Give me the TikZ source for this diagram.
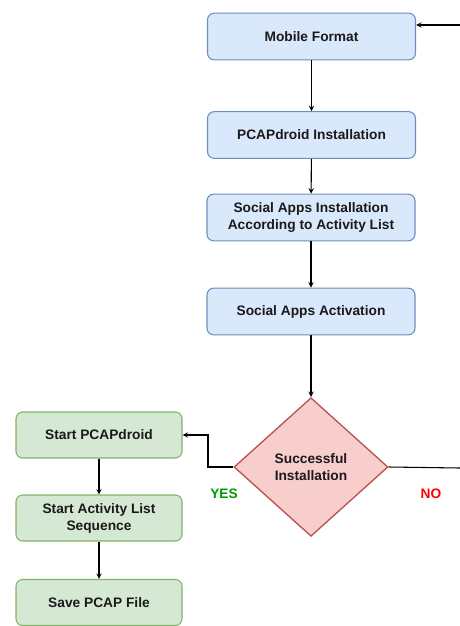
\documentclass[tikz,border=0pt]{standalone}
\usepackage{fontspec}
\setmainfont{Liberation Sans}
\usetikzlibrary{shapes.geometric}
\definecolor{blueFill}{HTML}{DAE8FC}
\definecolor{blueLine}{HTML}{6C8EBF}
\definecolor{greenFill}{HTML}{D5E8D4}
\definecolor{greenLine}{HTML}{82B366}
\definecolor{redFill}{HTML}{F8CECC}
\definecolor{redLine}{HTML}{B85450}
\definecolor{yesGreen}{HTML}{009900}
\definecolor{noRed}{HTML}{FF0000}
\definecolor{textDark}{HTML}{1A1A1A}
\begin{document}
\begin{tikzpicture}[
    x=0.75pt, y=-0.75pt,
    mybox/.style={rectangle, rounded corners=5pt, line width=0.8pt, align=center, inner sep=0pt,
        text=textDark, font=\fontsize{10.3}{12.75}\selectfont\bfseries},
    myblue/.style={mybox, draw=blueLine, fill=blueFill, minimum width=156pt, minimum height=35pt},
    mygreen/.style={mybox, draw=greenLine, fill=greenFill, minimum width=124.5pt, minimum height=34.5pt},
    mydecision/.style={diamond, draw=redLine, fill=redFill, line width=1pt, align=center, inner sep=0pt,
        text=textDark, minimum width=115.5pt, minimum height=104pt,
        font=\fontsize{10.3}{12.75}\selectfont\bfseries},
    myarrow/.style={->, >=stealth, line width=0.8pt},
    mylabel/.style={font=\fontsize{10.3}{12.75}\selectfont\bfseries}
]
    \useasboundingbox (0, 0) rectangle (460, 626);

    % Main column
    \node[myblue] (format) at (311.5, 36.5) {Mobile Format};
    \node[myblue] (pcapinst) at (311.5, 135) {PCAPdroid Installation};
    \node[myblue] (appsinst) at (311, 217.5) {Social Apps Installation\\According to Activity List};
    \node[myblue] (appsact) at (311, 311.5) {Social Apps Activation};

    % Decision
    \node[mydecision] (check) at (311, 467) {Successful\\Installation};

    % Capture column
    \node[mygreen] (startpcap) at (99, 435) {Start PCAPdroid};
    \node[mygreen] (startseq) at (99, 518) {Start Activity List\\Sequence};
    \node[mygreen] (savepcap) at (99, 602.5) {Save PCAP File};

    % Loop ends
    \coordinate (loopin) at (460, 25);
    \coordinate (loopout) at (460, 468);

    \draw[myarrow] (format) -- (pcapinst);
    \draw[myarrow] (pcapinst) -- (appsinst);
    \draw[myarrow] (appsinst) -- (appsact);
    \draw[myarrow] (appsact) -- (check);
    \draw[myarrow] (check.west) -| (208, 435) -- (startpcap.east);
    \draw[myarrow] (startpcap) -- (startseq);
    \draw[myarrow] (startseq) -- (savepcap);
    \draw[myarrow] (loopin) -- (format.east |- loopin);
    \draw[line width=0.8pt] (check.east) -- (loopout);

    \node[mylabel, text=yesGreen] (yes) at (224, 494) {YES};
    \node[mylabel, text=noRed] (no) at (431, 494) {NO};
\end{tikzpicture}
\end{document}
